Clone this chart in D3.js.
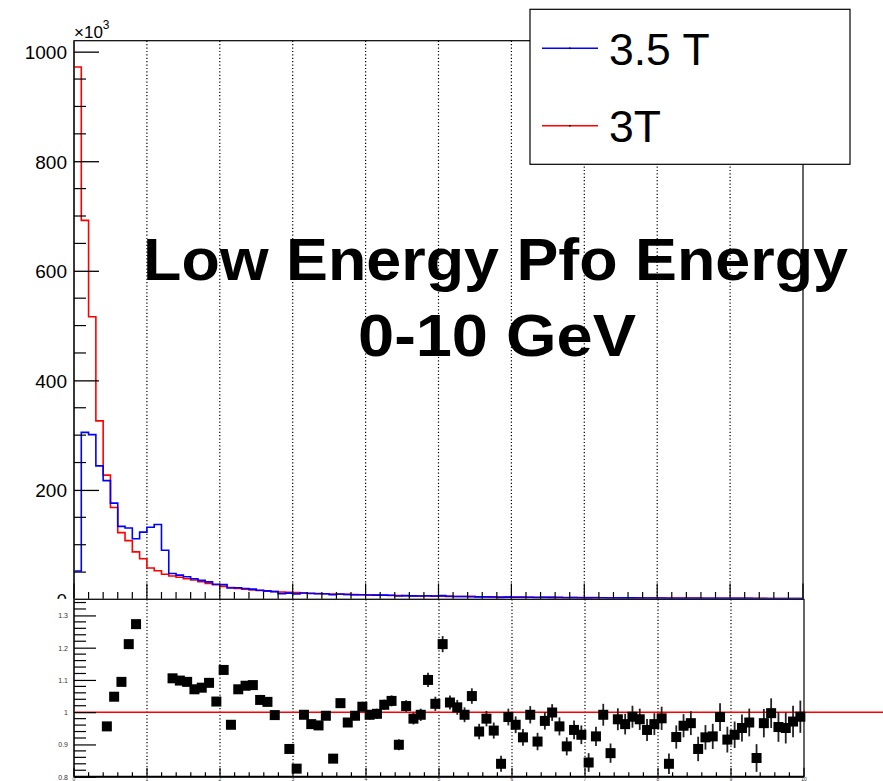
<!DOCTYPE html>
<html>
<head>
<meta charset="utf-8">
<script src="https://cdn.jsdelivr.net/npm/d3@7"></script>
<style>
  html, body { margin: 0; padding: 0; background: #fff; }
  svg { display: block; font-family: "Liberation Sans", Arial, Helvetica, sans-serif; }
</style>
</head>
<body>
<svg id="chart" width="883" height="781"></svg>
<script>
// Pfo energy, 100 bins of 0.1 GeV from 0 to 10 GeV, entries in units of 10^3
const binLow = d3.range(100).map(i => +(i * 0.1).toFixed(1));

const field35T = [
  52, 305, 301, 244, 217, 176, 133.5, 130.5, 111, 123,
  132, 137, 90, 47.5, 44.5, 41.6, 38.0, 35.0, 32.2, 27.9,
  27.1, 21.1, 21.4, 20.1, 18.9, 16.9, 15.8, 14.4, 10.8, 11.6,
  10.3, 11.9, 11.0, 10.5, 10.4, 8.6, 10.0, 9.0, 8.8, 8.7,
  8.2, 8.0, 7.9, 7.7, 6.5, 7.0, 6.6, 6.4, 6.9, 6.3,
  7.1, 5.9, 5.6, 5.4, 5.5, 4.8, 4.8, 4.5, 3.9, 4.4,
  4.2, 4.0, 4.2, 3.7, 3.9, 3.9, 3.6, 3.3, 3.4, 3.3,
  2.9, 3.1, 3.2, 2.8, 3.0, 2.9, 3.0, 2.8, 2.7, 2.7,
  2.7, 2.3, 2.4, 2.4, 2.4, 2.2, 2.2, 2.2, 2.3, 2.1,
  2.0, 2.0, 2.0, 1.8, 1.9, 1.9, 1.8, 1.8, 1.7, 1.8
];

const field3T = [
  972, 692, 516, 326, 227, 168, 122, 107.5, 87, 74.5,
  57.5, 52.6, 46, 43.0, 40.5, 38.0, 35.5, 32.5, 29.5, 27.0,
  24.0, 22.0, 20.0, 18.6, 17.4, 16.3, 15.3, 14.5, 13.8, 13.1,
  12.5, 12.0, 11.4, 10.9, 10.5, 10.1, 9.7, 9.3, 8.9, 8.6,
  8.3, 8.0, 7.7, 7.4, 7.2, 6.9, 6.7, 6.5, 6.3, 6.1,
  5.9, 5.7, 5.5, 5.4, 5.2, 5.1, 4.9, 4.8, 4.7, 4.5,
  4.4, 4.3, 4.2, 4.1, 4.0, 3.9, 3.8, 3.7, 3.6, 3.5,
  3.4, 3.35, 3.25, 3.2, 3.1, 3.05, 3.0, 2.9, 2.85, 2.8,
  2.75, 2.7, 2.6, 2.55, 2.5, 2.45, 2.4, 2.35, 2.3, 2.25,
  2.2, 2.15, 2.1, 2.05, 2.0, 1.95, 1.9, 1.85, 1.8, 1.8
];

// Ratio 3.5 T / 3 T per bin (null: outside the 0.8 - 1.35 window)
const ratio = [
  null, null, null, null, 0.956, 1.048, 1.094, 1.211, 1.273, null,
  null, null, null, 1.105, 1.098, 1.094, 1.071, 1.076, 1.091, 1.033,
  1.131, 0.961, 1.071, 1.082, 1.084, 1.038, 1.032, 0.991, null, 0.886,
  0.825, 0.992, 0.963, 0.959, 0.989, 0.856, 1.028, 0.968, 0.989, 1.017,
  0.992, 0.995, 1.023, 1.035, 0.899, 1.019, 0.980, 0.992, 1.100, 1.026,
  1.211, 1.030, 1.015, 0.992, 1.050, 0.940, 0.980, 0.943, 0.840, 0.985,
  0.961, 0.922, 0.992, 0.909, 0.973, 0.999, 0.956, 0.894, 0.945, 0.930,
  0.844, 0.925, 0.992, 0.873, 0.978, 0.963, 0.986, 0.978, 0.945, 0.963,
  0.981, 0.840, 0.923, 0.958, 0.966, 0.886, 0.922, 0.925, 0.985, 0.915,
  0.930, 0.951, 0.968, 0.858, 0.966, 0.997, 0.954, 0.951, 0.971, 0.986
];

const ratioErr = [
  0, 0, 0, 0, 0.004, 0.004, 0.004, 0.005, 0.005, 0,
  0, 0, 0, 0.008, 0.008, 0.008, 0.008, 0.008, 0.009, 0.009,
  0.009, 0.009, 0.009, 0.010, 0.010, 0.010, 0.010, 0.011, 0, 0.012,
  0.012, 0.012, 0.013, 0.013, 0.013, 0.013, 0.014, 0.014, 0.014, 0.015,
  0.015, 0.016, 0.016, 0.017, 0.017, 0.018, 0.018, 0.019, 0.022, 0.022,
  0.025, 0.022, 0.023, 0.023, 0.024, 0.024, 0.024, 0.025, 0.025, 0.026,
  0.026, 0.026, 0.027, 0.027, 0.027, 0.026, 0.028, 0.028, 0.029, 0.029,
  0.029, 0.030, 0.034, 0.030, 0.034, 0.032, 0.034, 0.033, 0.034, 0.034,
  0.036, 0.032, 0.036, 0.036, 0.037, 0.038, 0.038, 0.039, 0.043, 0.040,
  0.041, 0.042, 0.043, 0.043, 0.044, 0.046, 0.046, 0.048, 0.049, 0.050
];

const yTicksMain = [0, 200, 400, 600, 800, 1000];
const yTicksRatio = [0.8, 0.9, 1, 1.1, 1.2, 1.3];
const xTicks = d3.range(0, 11);
const legendLabels = ["3.5 T", "3T"];
const titleLines = ["Low Energy Pfo Energy", "0-10 GeV"];

const svg = d3.select("#chart");
const colors = { field35T: "#0000ff", field3T: "#ff0000" };
const gridStyle = g => g.attr("stroke", "#000").attr("stroke-width", 1.2)
  .attr("stroke-dasharray", "1.2,2.2");

// ---------- upper pad: distributions ----------
const mainFrame = { left: 74, right: 803, top: 40.7, bottom: 599.5 };
const x = d3.scaleLinear().domain([0, 10]).range([mainFrame.left, mainFrame.right]);
const y = d3.scaleLinear().domain([0, 1020]).range([mainFrame.bottom, mainFrame.top]);

const upperPad = svg.append("g");

// vertical dotted grid
upperPad.append("g").selectAll("line").data(xTicks.slice(1, 10)).join("line")
  .attr("x1", d => x(d)).attr("x2", d => x(d))
  .attr("y1", mainFrame.top).attr("y2", mainFrame.bottom)
  .call(gridStyle);

// step outlines
const stepLine = d3.line()
  .x(d => x(d[0])).y(d => y(d[1]))
  .curve(d3.curveStepAfter);
function stepPoints(vals) {
  const pts = vals.map((v, i) => [binLow[i], v]);
  pts.push([10, vals[vals.length - 1]]);
  return pts;
}
upperPad.append("path").datum(stepPoints(field3T))
  .attr("d", stepLine).attr("fill", "none")
  .attr("stroke", colors.field3T).attr("stroke-width", 1.6);
upperPad.append("path").datum(stepPoints(field35T))
  .attr("d", stepLine).attr("fill", "none")
  .attr("stroke", colors.field35T).attr("stroke-width", 1.6);

// frame
upperPad.append("rect")
  .attr("x", mainFrame.left).attr("y", mainFrame.top)
  .attr("width", mainFrame.right - mainFrame.left).attr("height", mainFrame.bottom - mainFrame.top)
  .attr("fill", "none").attr("stroke", "#000").attr("stroke-width", 1.2);
upperPad.append("line").attr("x1", mainFrame.left).attr("x2", mainFrame.left)
  .attr("y1", mainFrame.top).attr("y2", mainFrame.bottom)
  .attr("stroke", "#333").attr("stroke-width", 1.8);

// y axis: major + minor ticks pointing inward
const yAxisMain = d3.axisLeft(y).tickValues(yTicksMain).tickSize(-25).tickPadding(7)
  .tickFormat(d3.format("d"));
upperPad.append("g").attr("transform", `translate(${mainFrame.left},0)`).call(yAxisMain)
  .call(g => g.select(".domain").remove())
  .call(g => g.selectAll("line").attr("stroke", "#000").attr("stroke-width", 1.3))
  .call(g => g.selectAll("text").attr("font-size", 19).attr("fill", "#000")
    .attr("font-family", "Liberation Sans, Arial, sans-serif").attr("dy", "0.36em"));
upperPad.append("g").selectAll("line")
  .data(d3.range(0, 1020, 50).filter(v => v % 200 !== 0)).join("line")
  .attr("x1", mainFrame.left).attr("x2", mainFrame.left + 12)
  .attr("y1", d => y(d)).attr("y2", d => y(d))
  .attr("stroke", "#000").attr("stroke-width", 1.2);

// x axis ticks on the bottom edge
const xMinor = d3.range(0, 50).map(i => +(i * 0.2).toFixed(1)).filter(v => v % 1 !== 0);
upperPad.append("g").selectAll("line").data(xMinor).join("line")
  .attr("x1", d => x(d)).attr("x2", d => x(d))
  .attr("y1", mainFrame.bottom).attr("y2", mainFrame.bottom - 7.5)
  .attr("stroke", "#000").attr("stroke-width", 1.2);
upperPad.append("g").selectAll("line").data(xTicks).join("line")
  .attr("x1", d => x(d)).attr("x2", d => x(d))
  .attr("y1", mainFrame.bottom).attr("y2", mainFrame.bottom - 16)
  .attr("stroke", "#000").attr("stroke-width", 1.2);

// exponent label
const expo = upperPad.append("text").attr("x", 74).attr("y", 37.5)
  .attr("font-size", 17).attr("fill", "#000");
expo.append("tspan").text("×10");
expo.append("tspan").attr("font-size", 12).attr("dy", -9).text("3");

// title: bold text, fitted horizontally to its span
function fittedTitle(text, cx, baseline, width) {
  const t = upperPad.append("text")
    .attr("text-anchor", "middle").attr("font-weight", "bold").attr("font-size", 60)
    .attr("fill", "#000").text(text);
  const w = t.node().getComputedTextLength();
  t.attr("transform", `translate(${cx},${baseline}) scale(${width / w},1)`);
}
fittedTitle(titleLines[0], 495.5, 280, 705);
fittedTitle(titleLines[1], 497, 356, 278);

// legend
const leg = svg.append("g");
leg.append("rect").attr("x", 530).attr("y", 9.3).attr("width", 320).attr("height", 155)
  .attr("fill", "#fff").attr("stroke", "#000").attr("stroke-width", 1.2);
const legRows = [
  { label: legendLabels[0], color: colors.field35T, y: 48.3 },
  { label: legendLabels[1], color: colors.field3T, y: 125.7 }
];
legRows.forEach(r => {
  leg.append("line").attr("x1", 542).attr("x2", 598).attr("y1", r.y).attr("y2", r.y)
    .attr("stroke", r.color).attr("stroke-width", 1.5);
  leg.append("rect").attr("x", 569).attr("y", r.y - 0.8).attr("width", 1.6).attr("height", 1.6)
    .attr("fill", "#000");
  leg.append("text").attr("x", 609).attr("y", r.y + 16.5)
    .attr("font-size", 44.5).attr("fill", "#000").text(r.label);
});

// ---------- lower pad: ratio ----------
const ratioFrame = { left: 74, right: 804, top: 599.3, bottom: 776.7 };
const ry = d3.scaleLinear().domain([0.8, 1.35]).range([ratioFrame.bottom, ratioFrame.top]);
const rx = d3.scaleLinear().domain([0, 10]).range([ratioFrame.left, ratioFrame.right]);

const lowerPad = svg.append("g");
lowerPad.append("rect").attr("x", 0).attr("y", 598.8).attr("width", 883).attr("height", 781 - 598.8)
  .attr("fill", "#fff");

lowerPad.append("g").selectAll("line").data(xTicks.slice(1, 10)).join("line")
  .attr("x1", d => rx(d)).attr("x2", d => rx(d))
  .attr("y1", ratioFrame.top).attr("y2", ratioFrame.bottom)
  .call(gridStyle);

// unity reference line
lowerPad.append("line").attr("x1", ratioFrame.left).attr("x2", 883)
  .attr("y1", ry(1)).attr("y2", ry(1))
  .attr("stroke", "#ff0000").attr("stroke-width", 1.5);

// points with error bars
const pts = ratio.map((r, i) => ({ x: binLow[i] + 0.05, r, e: ratioErr[i] })).filter(d => d.r !== null);
lowerPad.append("g").selectAll("line").data(pts).join("line")
  .attr("x1", d => rx(d.x)).attr("x2", d => rx(d.x))
  .attr("y1", d => ry(d.r - d.e)).attr("y2", d => ry(d.r + d.e))
  .attr("stroke", "#222").attr("stroke-width", 1.8);
lowerPad.append("g").selectAll("rect").data(pts).join("rect")
  .attr("x", d => rx(d.x) - 5).attr("y", d => ry(d.r) - 5)
  .attr("width", 10).attr("height", 10).attr("fill", "#000");

// frame
lowerPad.append("rect")
  .attr("x", ratioFrame.left).attr("y", ratioFrame.top)
  .attr("width", ratioFrame.right - ratioFrame.left).attr("height", ratioFrame.bottom - ratioFrame.top)
  .attr("fill", "none").attr("stroke", "#000").attr("stroke-width", 1.2);
lowerPad.append("line").attr("x1", ratioFrame.left).attr("x2", ratioFrame.right)
  .attr("y1", ratioFrame.bottom).attr("y2", ratioFrame.bottom)
  .attr("stroke", "#000").attr("stroke-width", 2);
lowerPad.append("line").attr("x1", ratioFrame.left).attr("x2", ratioFrame.left)
  .attr("y1", ratioFrame.top).attr("y2", ratioFrame.bottom)
  .attr("stroke", "#333").attr("stroke-width", 1.8);

// ratio y axis
const yAxisRatio = d3.axisLeft(ry).tickValues(yTicksRatio).tickSize(-22).tickPadding(6)
  .tickFormat(d => d3.format("")(d));
lowerPad.append("g").attr("transform", `translate(${ratioFrame.left},0)`).call(yAxisRatio)
  .call(g => g.select(".domain").remove())
  .call(g => g.selectAll("line").attr("stroke", "#000").attr("stroke-width", 1.2))
  .call(g => g.selectAll("text").attr("font-size", 7).attr("fill", "#333")
    .attr("font-family", "Liberation Sans, Arial, sans-serif").attr("dy", "0.36em"));
lowerPad.append("g").selectAll("line")
  .data(d3.range(41, 68).map(i => +(i * 0.02).toFixed(2)).filter(v => Math.abs(v * 10 - Math.round(v * 10)) > 1e-6))
  .join("line")
  .attr("x1", ratioFrame.left).attr("x2", ratioFrame.left + 12)
  .attr("y1", d => ry(d)).attr("y2", d => ry(d))
  .attr("stroke", "#000").attr("stroke-width", 1.2);

// ratio x axis ticks and labels
lowerPad.append("g").selectAll("line").data(xMinor).join("line")
  .attr("x1", d => rx(d)).attr("x2", d => rx(d))
  .attr("y1", ratioFrame.bottom).attr("y2", ratioFrame.bottom - 4.5)
  .attr("stroke", "#000").attr("stroke-width", 1.2);
lowerPad.append("g").selectAll("line").data(xTicks).join("line")
  .attr("x1", d => rx(d)).attr("x2", d => rx(d))
  .attr("y1", ratioFrame.bottom).attr("y2", ratioFrame.bottom - 9)
  .attr("stroke", "#000").attr("stroke-width", 1.2);
lowerPad.append("g").selectAll("text").data(xTicks).join("text")
  .attr("x", d => rx(d)).attr("y", 780.6)
  .attr("text-anchor", "middle").attr("font-size", 5).attr("fill", "#333")
  .text(d => d);
</script>
</body>
</html>
